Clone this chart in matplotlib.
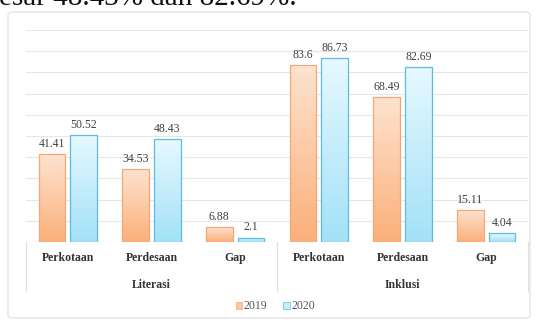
import numpy as np
import matplotlib.pyplot as plt
from matplotlib.patches import FancyBboxPatch, Rectangle
from matplotlib.colors import LinearSegmentedColormap
import matplotlib.transforms as mtransforms

categories = ['Perkotaan', 'Perdesaan', 'Gap', 'Perkotaan', 'Perdesaan', 'Gap']
groups = ['Literasi', 'Inklusi']
values_2019 = [41.41, 34.53, 6.88, 83.6, 68.49, 15.11]
values_2020 = [50.52, 48.43, 2.1, 86.73, 82.69, 4.04]
labels_2019 = ['41.41', '34.53', '6.88', '83.6', '68.49', '15.11']
labels_2020 = ['50.52', '48.43', '2.1', '86.73', '82.69', '4.04']

plt.rcParams['font.family'] = ['Liberation Serif', 'DejaVu Serif']

fig = plt.figure(figsize=(5.36, 3.2), dpi=100)
W, H = 536, 320

# tail of the sentence above the chart, clipped by the top edge
fig.text(-1 / W, 1 - 5 / H, 'esar 48.43% dan 82.69%.', fontsize=21,
         ha='left', va='baseline', color='#111111')

# chart frame
frame = FancyBboxPatch((8 / W, 2 / H), 522 / W, 306 / H,
                       boxstyle='round,pad=0,rounding_size=0.01',
                       transform=fig.transFigure, facecolor='white',
                       edgecolor='#e4e4e4', linewidth=1.0, zorder=-5)
fig.patches.append(frame)

ax = fig.add_axes([26 / W, 1 - 242 / H, 502 / W, 212 / H])
ax.set_zorder(2)
ax.patch.set_visible(False)
ax.set_yticks(np.arange(0, 101, 10))
ax.yaxis.grid(True, color='#e6e6e6', linewidth=0.8)
ax.set_axisbelow(True)
ax.tick_params(left=False, bottom=False, labelleft=False, labelbottom=False)
for s in ax.spines.values():
    s.set_visible(False)
ax.axhline(0, color='#dddddd', linewidth=0.8)

x = np.arange(len(categories))
w = 0.32
off = 0.19

cmap_or = LinearSegmentedColormap.from_list('or', ['#fde3cf', '#fbb07a'])
cmap_bl = LinearSegmentedColormap.from_list('bl', ['#e6f9ff', '#a3e1f7'])
grad = np.linspace(0, 1, 64).reshape(-1, 1)

bars19 = ax.bar(x - off, values_2019, w, facecolor='none', edgecolor='#f2a877',
                linewidth=0.9, zorder=3)
bars20 = ax.bar(x + off, values_2020, w, facecolor='none', edgecolor='#5cbde0',
                linewidth=0.9, zorder=3)

# vertical gradient fill inside each bar
for bars, cmap in ((bars19, cmap_or), (bars20, cmap_bl)):
    for b in bars:
        x0, y0 = b.get_x(), b.get_y()
        bw, bh = b.get_width(), b.get_height()
        im = ax.imshow(grad, cmap=cmap, aspect='auto', origin='upper',
                       extent=(x0, x0 + bw, y0, y0 + bh), zorder=2)
        im.set_clip_path(Rectangle((x0, y0), bw, bh, transform=ax.transData))

ax.set_xlim(-0.5, len(categories) - 0.5)
ax.set_ylim(0, 100)

for bars, labs in ((bars19, labels_2019), (bars20, labels_2020)):
    for b, lab in zip(bars, labs):
        ax.annotate(lab, (b.get_x() + b.get_width() / 2, b.get_height()),
                    xytext=(0, 3), textcoords='offset points', ha='center',
                    va='bottom', fontsize=8.5, color='#404040')

trans = mtransforms.blended_transform_factory(ax.transData, ax.transAxes)
for i, c in enumerate(categories):
    ax.text(i, -0.075, c, transform=trans, ha='center', va='center',
            fontsize=8.5, color='#333333', fontweight='bold')
for g, name in enumerate(groups):
    ax.text(3 * g + 1, -0.205, name, transform=trans, ha='center',
            va='center', fontsize=8.5, color='#333333', fontweight='bold')
for xs in (-0.5, 2.5, 5.5):
    ax.plot([xs, xs], [0, -0.23], transform=trans, color='#e0e0e0',
            linewidth=0.8, clip_on=False)

# legend
ax.add_patch(Rectangle((0.418, -0.318), 0.013, 0.033, transform=ax.transAxes,
                       facecolor='#fbc8a0', edgecolor='#f2a877', lw=0.5,
                       clip_on=False))
ax.text(0.434, -0.302, '2019', transform=ax.transAxes, ha='left', va='center',
        fontsize=8.5, color='#555555')
ax.add_patch(Rectangle((0.512, -0.318), 0.013, 0.033, transform=ax.transAxes,
                       facecolor='#c8eefa', edgecolor='#5cbde0', lw=0.5,
                       clip_on=False))
ax.text(0.528, -0.302, '2020', transform=ax.transAxes, ha='left', va='center',
        fontsize=8.5, color='#555555')

fig.savefig('out.png', dpi=100)
